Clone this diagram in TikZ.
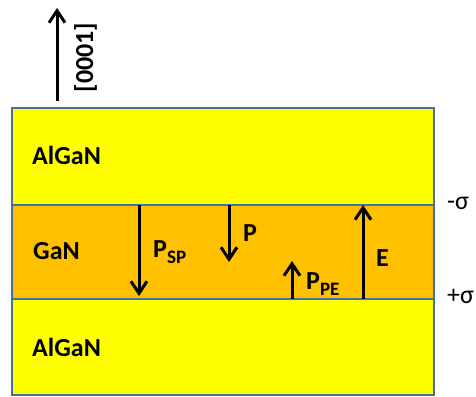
\documentclass[tikz,border=0pt]{standalone}
\usepackage{fontspec}
\setmainfont{Carlito}
\usetikzlibrary{arrows.meta,positioning}
\definecolor{Barrier}{HTML}{FFFF00}
\definecolor{Well}{HTML}{FFC000}
\definecolor{Edge}{HTML}{41719C}
\newcommand{\lowsub}[1]{\raisebox{-6pt}{\fontsize{19}{20}\selectfont #1}}

\begin{document}
\begin{tikzpicture}[x=1pt,y=-1pt,
  layer/.style={draw=Edge,line width=1.8pt,inner sep=0pt,
    minimum width=422pt},
  material/.style={font=\fontsize{26}{28}\selectfont\bfseries,anchor=base west,inner sep=0pt},
  vec/.style={-{Straight Barb[length=12pt,width=16pt,line width=3pt]},line width=3pt},
  lbl/.style={font=\fontsize{26}{28}\selectfont\bfseries,anchor=base west,inner sep=0pt},
  charge/.style={font=\fontsize{26}{28}\selectfont,anchor=base west,inner sep=0pt}
]
\useasboundingbox (0,0) rectangle (476,396);

% Layer stack.
\node[layer,fill=Barrier,minimum height=97pt] (top) at (223,156.5) {};
\node[layer,fill=Well,minimum height=94pt] (gan) at (223,252) {};
\node[layer,fill=Barrier,minimum height=96pt] (bot) at (223,347) {};
\node[material] (ntop) at (32,164) {AlGaN};
\node[material] (ngan) at (33,259) {GaN};
\node[material] (nbot) at (32,356) {AlGaN};

% Growth direction.
\coordinate (c0) at (57,101);
\coordinate (c1) at (57,8);
\draw[vec] (c0)--(c1);
\node[lbl,rotate=90,anchor=center] (dir) at (85.5,57.5) {[0001]};

% Polarisation and field in the well.
\coordinate (sp0) at (139,205);
\coordinate (sp1) at (139,296);
\coordinate (p0) at (229,205);
\coordinate (p1) at (229,262);
\coordinate (pe0) at (292,299);
\coordinate (pe1) at (292,261);
\coordinate (e0) at (363,299);
\coordinate (e1) at (363,205);
\draw[vec] (sp0)--(sp1);
\draw[vec] (p0)--(p1);
\draw[vec] (pe0)--(pe1);
\draw[vec] (e0)--(e1);
\node[lbl] (psp) at (153,257) {P\lowsub{SP}};
\node[lbl] (pp) at (243,241) {P};
\node[lbl] (ppe) at (306,289) {P\lowsub{PE}};
\node[lbl] (ee) at (376,266) {E};

% Interface charges.
\node[charge] (sneg) at (447,209) {-σ};
\node[charge] (spos) at (447,303) {+σ};
\end{tikzpicture}
\end{document}
